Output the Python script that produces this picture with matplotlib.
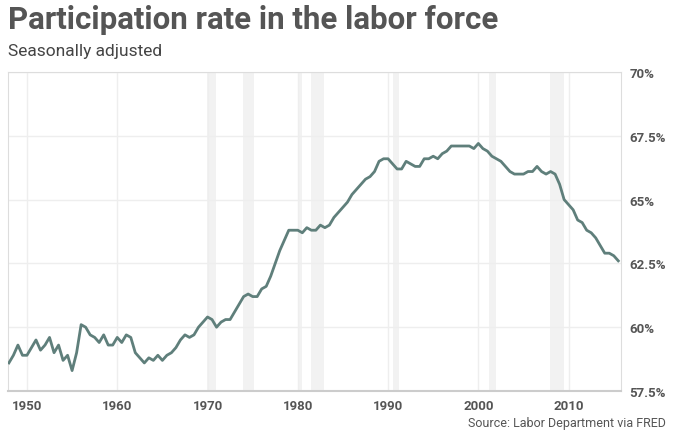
import numpy as np
import matplotlib
matplotlib.use("Agg")
import matplotlib.pyplot as plt

years = np.arange(1948, 2016, 0.5)
rate = [58.6,58.9,59.3,58.9,58.9,59.2,59.5,59.1,59.3,59.6,59.0,59.3,58.7,58.9,58.3,59.0,
        60.1,60.0,59.7,59.6,59.4,59.7,59.3,59.3,59.6,59.4,59.7,59.6,59.0,58.8,58.6,58.8,
        58.7,58.9,58.7,58.9,59.0,59.2,59.5,59.7,59.6,59.7,60.0,60.2,60.4,60.3,60.0,60.2,
        60.3,60.3,60.6,60.9,61.2,61.3,61.2,61.2,61.5,61.6,62.0,62.5,63.0,63.4,63.8,63.8,
        63.8,63.7,63.9,63.8,63.8,64.0,63.9,64.0,64.3,64.5,64.7,64.9,65.2,65.4,65.6,65.8,
        65.9,66.1,66.5,66.6,66.6,66.4,66.2,66.2,66.5,66.4,66.3,66.3,66.6,66.6,66.7,66.6,
        66.8,66.9,67.1,67.1,67.1,67.1,67.1,67.0,67.2,67.0,66.9,66.7,66.6,66.5,66.3,66.1,
        66.0,66.0,66.0,66.1,66.1,66.3,66.1,66.0,66.1,66.0,65.6,65.0,64.8,64.6,64.2,64.1,
        63.8,63.7,63.5,63.2,62.9,62.9,62.8,62.6]
recessions = [(1969.9,1970.9),(1973.9,1975.2),(1980.0,1980.5),(1981.5,1982.9),
              (1990.5,1991.2),(2001.2,2001.9),(2007.9,2009.5)]
yticks = [57.5,60,62.5,65,67.5,70]
ylabels = ["57.5%","60%","62.5%","65%","67.5%","70%"]
xticks = [1950,1960,1970,1980,1990,2000,2010]

plt.rcParams['font.family'] = ['Roboto','DejaVu Sans']
fig = plt.figure(figsize=(6.73,4.35), dpi=100)
ax = fig.add_axes([8/673, 1-392/435, 613/673, 319/435])
for a,b in recessions:
    ax.axvspan(a,b,color='#f2f2f2',lw=0,zorder=0)
ax.plot(years, rate, color='#5f7f7b', lw=2, zorder=3)
ax.set_xlim(1947.9,2015.8)
ax.set_ylim(57.5,70)
ax.set_yticks(yticks); ax.set_yticklabels(ylabels)
ax.set_xticks(xticks)
ax.yaxis.tick_right()
ax.grid(True,color='#eeeeee',lw=1)
ax.tick_params(length=0,labelsize=9.5,labelcolor='#555555',pad=6)
for t in ax.get_xticklabels()+ax.get_yticklabels():
    t.set_fontweight('bold')
for s in ['top','right','left']:
    ax.spines[s].set_color('#dddddd')
ax.spines['bottom'].set_color('#cccccc'); ax.spines['bottom'].set_linewidth(1.5)
fig.text(8/673,1-20/435,"Participation rate in the labor force",fontsize=22.5,fontweight='bold',color='#555555',va='center')
fig.text(8/673,1-52/435,"Seasonally adjusted",fontsize=12.5,color='#444444',va='center')
fig.text(666/673,1-424/435,"Source: Labor Department via FRED",fontsize=9,color='#555555',va='center',ha='right')
fig.savefig("out.png",dpi=100)
